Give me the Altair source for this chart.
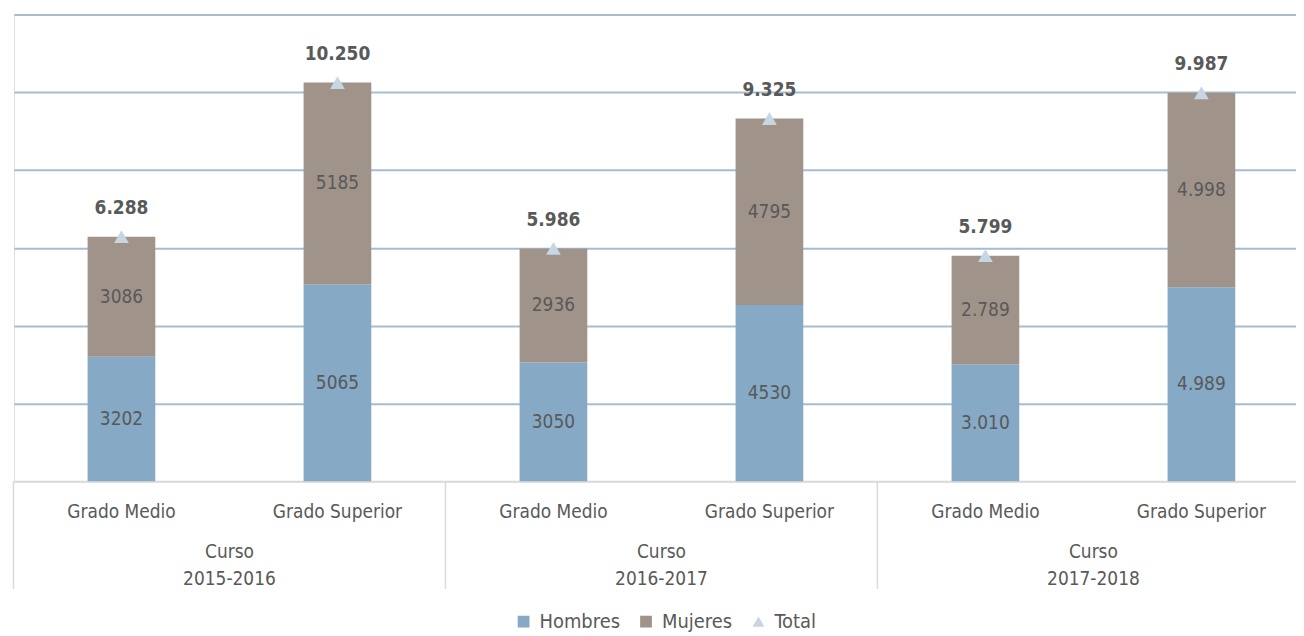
import altair as alt
import pandas as pd

cursos = ["2015-2016", "2015-2016", "2016-2017", "2016-2017", "2017-2018", "2017-2018"]
grados = ["Grado Medio", "Grado Superior", "Grado Medio", "Grado Superior", "Grado Medio", "Grado Superior"]
hombres = [3202, 5065, 3050, 4530, 3010, 4989]
mujeres = [3086, 5185, 2936, 4795, 2789, 4998]
totales = [6288, 10250, 5986, 9325, 5799, 9987]
lab_hombres = ["3202", "5065", "3050", "4530", "3.010", "4.989"]
lab_mujeres = ["3086", "5185", "2936", "4795", "2.789", "4.998"]
lab_totales = ["6.288", "10.250", "5.986", "9.325", "5.799", "9.987"]
series = ["Hombres", "Mujeres", "Total"]
colores = ["#86A9C6", "#A0948A", "#C6D6E3"]
formas = ["square", "square", "triangle-up"]

keys = [c + "|" + g for c, g in zip(cursos, grados)]

W, H = 1288, 469
STEP = 217.0
FONT = "DejaVu Sans Condensed, Liberation Sans Narrow, sans-serif"
TXT = "#595959"

rows = []
for i, k in enumerate(keys):
    rows.append({"key": k, "serie": "Hombres", "orden": 0, "valor": hombres[i], "lab": lab_hombres[i]})
    rows.append({"key": k, "serie": "Mujeres", "orden": 1, "valor": mujeres[i], "lab": lab_mujeres[i]})
stack_df = pd.DataFrame(rows)

tot_df = pd.DataFrame({"key": keys, "serie": ["Total"] * 6, "valor": totales, "lab": lab_totales})

curso_df = pd.DataFrame({
    "key": [keys[0], keys[2], keys[4]],
    "titulo": ["Curso\n2015-2016", "Curso\n2016-2017", "Curso\n2017-2018"],
})

xscale = alt.Scale(domain=keys, paddingInner=0.6866, paddingOuter=0.31106, align=0.548, round=False)
yscale = alt.Scale(domain=[0, 12000], nice=False)
cscale = alt.Scale(domain=series, range=colores)
sscale = alt.Scale(domain=series, range=formas)

legend = alt.Legend(
    title=None, orient="none", direction="horizontal", legendX=502, legendY=600,
    labelFont=FONT, labelFontSize=20, labelColor=TXT, symbolSize=140,
    symbolStrokeWidth=0, columnPadding=16, labelOffset=6,
)

xaxis = alt.Axis(
    title=None, labelExpr="split(datum.label, '|')[1]", labelAngle=0,
    labelFont=FONT, labelFontSize=19, labelColor=TXT, labelPadding=21,
    ticks=False, domainColor="#D9D9D9", domainWidth=2, grid=False,
)
yaxis = alt.Axis(
    title=None, values=[2000, 4000, 6000, 8000, 10000, 12000], labels=False,
    ticks=False, domain=False, grid=True, gridColor="#A7BDCF", gridWidth=2,
)

stacked = alt.Chart(stack_df).transform_stack(
    stack="valor", as_=["y0", "y1"], groupby=["key"], sort=[alt.SortField("orden")]
).transform_calculate(mid="(datum.y0 + datum.y1) / 2")

bars = stacked.mark_bar().encode(
    x=alt.X("key:N", scale=xscale, axis=xaxis, sort=keys),
    y=alt.Y("y0:Q", scale=yscale, axis=yaxis),
    y2="y1:Q",
    color=alt.Color("serie:N", scale=cscale, legend=legend),
)

inner = stacked.mark_text(font=FONT, fontSize=19, color=TXT, baseline="middle").encode(
    x=alt.X("key:N", scale=xscale, sort=keys),
    y=alt.Y("mid:Q", scale=yscale),
    text="lab:N",
)

tri = alt.Chart(tot_df).mark_point(filled=True, size=220, opacity=1).encode(
    x=alt.X("key:N", scale=xscale, sort=keys),
    y=alt.Y("valor:Q", scale=yscale),
    color=alt.Color("serie:N", scale=cscale, legend=legend),
    shape=alt.Shape("serie:N", scale=sscale, legend=legend),
)

tot_text = alt.Chart(tot_df).mark_text(
    font=FONT, fontSize=19, fontWeight="bold", color=TXT, baseline="middle", dy=-29
).encode(
    x=alt.X("key:N", scale=xscale, sort=keys),
    y=alt.Y("valor:Q", scale=yscale),
    text="lab:N",
)

cursos_txt = alt.Chart(curso_df).mark_text(
    font=FONT, fontSize=19, color=TXT, lineBreak="\n", baseline="top", lineHeight=27,
    dx=STEP / 2,
).encode(
    x=alt.X("key:N", scale=xscale, sort=keys),
    y=alt.value(H + 62),
    text="titulo:N",
)

seps = alt.Chart(curso_df).mark_rule(color="#D9D9D9", strokeWidth=1.5, xOffset=-STEP / 2).encode(
    x=alt.X("key:N", scale=xscale, sort=keys),
    y=alt.value(H),
    y2=alt.value(H + 108),
)

chart = alt.layer(bars, inner, tri, tot_text, cursos_txt, seps).properties(
    width=W, height=H,
    padding={"left": 6, "top": 5, "right": 0, "bottom": 160},
    autosize=alt.AutoSizeParams(type="none"),
).configure_view(stroke=None).configure(background="white")

chart.save("out.html", embed_options={"renderer": "svg", "actions": False})
